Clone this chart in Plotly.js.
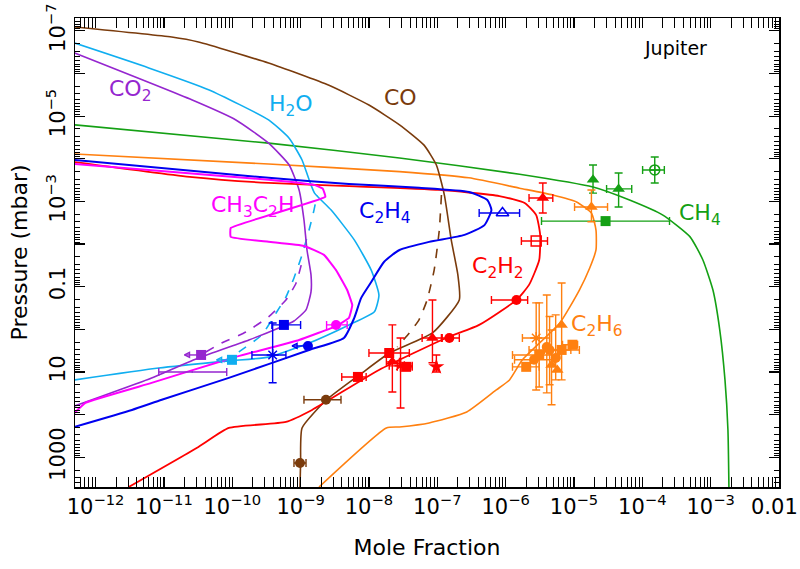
<!DOCTYPE html>
<html><head><meta charset="utf-8">
<script src="https://cdn.plot.ly/plotly-3.0.1.min.js"></script>
<style>html,body{margin:0;padding:0;background:#fff}#chart{width:800px;height:569px}</style>
</head><body><div id="chart"></div>
<script>
// ---------- axis ticks ----------
const xTickVals = [1e-12,1e-11,1e-10,1e-9,1e-8,1e-7,1e-6,1e-5,1e-4,1e-3];
const xTickText = ['10<sup>\u221212</sup>','10<sup>\u221211</sup>','10<sup>\u221210</sup>','10<sup>\u22129</sup>','10<sup>\u22128</sup>','10<sup>\u22127</sup>','10<sup>\u22126</sup>','10<sup>\u22125</sup>','10<sup>\u22124</sup>','10<sup>\u22123</sup>'];
const xEdgeLabel = '0.01';   // label of the right-hand end of the axis (1e-2)
const yTickVals = [1e-7,1e-5,1e-3,1e-1,10,1000];
const yTickText = ['10<sup>\u22127</sup>','10<sup>\u22125</sup>','10<sup>\u22123</sup>','0.1','10','1000'];
const yOddDecades = [1e-6,1e-4,1e-2,1,100];

// ---------- model profiles (mole fraction, pressure in mbar) ----------
const coX  = [4.9e-13,1.3e-11,3.2e-11,3.4e-10,2.6e-9,1.0e-8,2.8e-8,6.4e-8,9.7e-8,1.27e-7,1.6e-7,2.0e-7,2.1e-7,8.5e-8,2.0e-8,7.9e-9,2.4e-9,1.05e-9,1.0e-9,9.8e-10];
const coP  = [8.1e-8,1.4e-7,1.83e-7,5.7e-7,1.9e-6,5.5e-6,1.6e-5,4.8e-5,1.4e-4,7.1e-4,8.0e-3,0.053,0.205,1.22,3.6,10.6,45,206,1360,5000];
const coDashX = [1.15e-7,1.07e-7,9.0e-8,7.1e-8,5.4e-8,3.9e-8,2.6e-8];
const coDashP = [7.1e-4,4.7e-3,0.041,0.205,0.60,1.22,2.6];

const h2oX = [4.9e-13,6.0e-12,4.5e-11,3.4e-10,6.8e-10,1.05e-9,1.33e-9,1.6e-9,2.8e-9,6.1e-9,1.08e-8,1.4e-8,1.2e-8,5.1e-9,1.33e-9,3.4e-10,8.9e-11,8.4e-12,4.9e-13];
const h2oP = [1.93e-7,7.4e-7,2.4e-6,1.23e-5,3.3e-5,1.07e-4,3.1e-4,6.4e-4,1.6e-3,8.0e-3,0.041,0.157,0.39,0.79,2.1,4.5,5.5,8.1,15.4];
const h2oDashX = [7.5e-11,1.25e-10,2.7e-10,4.4e-10,6.1e-10,8.0e-10,1.05e-9,1.33e-9,1.57e-9,1.74e-9];
const h2oDashP = [5.8,3.4,1.36,0.41,0.175,0.0625,0.018,4.7e-3,1.6e-3,7.1e-4];

const co2X = [4.9e-13,2.6e-11,1.13e-10,3.4e-10,6.8e-10,9.5e-10,1.12e-9,1.24e-9,1.42e-9,1.42e-9,1.2e-9,8.0e-10,4.8e-10,1.75e-10,3.2e-11,6.6e-12,4.9e-13];
const co2P = [3.3e-7,4.2e-6,1.23e-5,4.3e-5,1.4e-4,5.4e-4,2.7e-3,0.0138,0.053,0.133,0.35,0.64,0.93,1.78,4.7,13.8,63];
const co2DashX = [4.1e-11,7.0e-11,1.58e-10,3.4e-10,6.1e-10,8.6e-10,1.05e-9];
const co2DashP = [3.4,2.1,1.16,0.51,0.205,0.082,0.026];

const ch4X = [4.9e-13,3.4e-10,2.8e-8,1.6e-6,1.9e-5,6.5e-5,2.0e-4,5.0e-4,7.7e-4,1.08e-3,1.36e-3,1.62e-3,1.79e-3,1.85e-3];
const ch4P = [1.6e-5,4.3e-5,9.6e-5,2.3e-4,4.6e-4,9.3e-4,2.1e-3,6.8e-3,0.0237,0.12,1.04,15.4,230,5000];

const c2h6X = [4.9e-13,3.4e-10,2.8e-8,2.9e-7,1.6e-6,4.9e-6,1.09e-5,1.8e-5,2.1e-5,2.1e-5,1.7e-5,1.2e-5,6.2e-6,1.76e-6,1.14e-6,7.3e-7,2.7e-7,7.6e-8,2.8e-8,1.8e-8,1.86e-9];
const c2h6P = [7.7e-5,1.33e-4,2.0e-4,2.8e-4,4.9e-4,7.1e-4,1.03e-3,1.87e-3,4.7e-3,0.0138,0.0365,0.12,0.71,5.2,15.4,26.5,87,157,195,206,5000];

const c2h2X = [4.9e-13,2.6e-11,3.4e-10,5.1e-9,1.07e-7,8.1e-7,1.9e-6,2.8e-6,3.2e-6,3.1e-6,2.2e-6,1.44e-6,4.1e-7,1.35e-7,1.4e-8,1.47e-9,6.1e-10,8.9e-11,3.2e-11,3.05e-12];
const c2h2P = [1.19e-4,2.7e-4,3.7e-4,4.4e-4,5.4e-4,7.5e-4,1.09e-3,2.1e-3,6.1e-3,0.0237,0.091,0.205,0.79,1.6,9.0,78,149,206,575,5000];

const c2h4X = [4.9e-13,3.4e-10,5.1e-9,5.4e-8,2.9e-7,5.4e-7,6.2e-7,4.9e-7,2.5e-7,7.6e-8,2.8e-8,1.67e-8,1.08e-8,7.7e-9,6.1e-9,4.3e-9,1.33e-9,8.9e-11,9.3e-12,3.4e-12,4.9e-13];
const c2h4P = [1.07e-4,2.8e-4,3.9e-4,4.8e-4,6.0e-4,9.3e-4,1.6e-3,3.6e-3,6.1e-3,8.9e-3,0.0138,0.026,0.078,0.184,0.54,1.6,3.05,13.8,45,78,195];

const ch3c2hX = [4.9e-13,3.4e-10,1.57e-9,2.1e-9,2.3e-9,9.5e-11,9.5e-11,3.4e-10,1.12e-9,2.2e-9,3.3e-9,4.8e-9,5.7e-9,5.1e-9,3.3e-9,9.5e-10,9.9e-11,6.6e-12,7.1e-13,4.9e-13];
const ch3c2hP = [1.33e-4,3.1e-4,4.1e-4,5.0e-4,7.8e-4,4.2e-3,6.8e-3,8.9e-3,0.0111,0.018,0.041,0.12,0.27,0.54,0.84,1.78,4.7,18.1,53,92];

// ---------- observations ----------
const obsGas = ['co2','co2','h2o','c2h4','c2h4','c2h4','c2h4','ch3c2h','co','co',
  'c2h2','c2h2','c2h2','c2h2','c2h2','c2h2','c2h2','c2h2','c2h2','c2h2','c2h2',
  'ch4','ch4','ch4','ch4',
  'c2h6','c2h6','c2h6','c2h6','c2h6','c2h6','c2h6','c2h6','c2h6','c2h6','c2h6','c2h6','c2h6'];
const obsX = [3.5e-11,2.6e-11,9.9e-11,5.7e-10,3.9e-10,1.28e-9,9.0e-7,3.3e-9,2.35e-9,9.8e-10,
  6.9e-9,1.98e-8,2.2e-8,2.9e-8,3.5e-8,8.5e-8,1.5e-7,9.7e-8,1.44e-6,3.5e-6,2.8e-6,
  1.9e-5,4.5e-5,1.52e-4,2.9e-5,
  1.8e-5,2.8e-6,6.6e-6,4.0e-6,2.6e-6,2.0e-6,4.7e-6,9.5e-6,4.4e-6,6.6e-6,3.1e-6,5.4e-6,5.7e-6];
const obsP = [4.0,10,5.2,0.79,4.0,2.46,1.87e-3,0.79,45,1365,
  13.1,3.6,5.8,7.2,7.6,1.6,1.6,7.6,0.205,8.3e-4,8.5e-3,
  3.1e-4,5.1e-4,1.83e-4,2.9e-3,
  1.35e-3,1.6,0.79,2.6,5.2,7.6,6.9,2.3,3.05,3.05,4.0,4.7,9.0];
const obsXlo = [null,8.4e-12,null,3.8e-10,1.94e-10,null,4.1e-7,2.4e-9,1.12e-9,8.0e-10,
  4.0e-9,1.0e-8,1.8e-8,1.98e-8,2.6e-8,6.0e-8,1.15e-7,null,6.2e-7,2.2e-6,1.7e-6,
  null,3.0e-5,1.01e-4,3.35e-6,
  1.02e-5,1.76e-6,null,null,1.35e-6,1.26e-6,null,6.8e-6,2.2e-6,3.7e-6,1.26e-6,null,null];
const obsXhi = [null,8.3e-11,null,1.0e-9,6.1e-10,null,1.6e-6,4.8e-9,3.9e-9,1.2e-9,
  9.1e-9,3.9e-8,2.8e-8,4.3e-8,4.3e-8,1.18e-7,2.1e-7,null,2.1e-6,4.9e-6,4.1e-6,
  null,7.0e-5,2.1e-4,2.5e-4,
  3.1e-5,4.4e-6,null,null,5.2e-6,3.1e-6,null,1.13e-5,9.0e-6,1.2e-5,6.2e-6,null,null];
const obsPlo = [null,null,null,null,0.71,null,null,null,null,null,
  null,null,0.79,1.6,null,0.205,null,4.0,null,3.7e-4,null,
  1.4e-4,2.16e-4,9.1e-5,null,
  5.4e-4,0.24,0.082,0.157,null,null,1.04,null,0.5,null,0.24,0.46,null];
const obsPhi = [null,null,null,null,18,null,null,null,null,null,
  null,null,29.5,70,null,6.1,null,10,null,1.87e-3,null,
  6.4e-4,1.35e-3,3.7e-4,null,
  3.0e-3,26.5,15.4,31,null,null,59,null,20,null,22.5,15.4,null];
const obsSymbol = ['square','line-ns','square','square','asterisk-open','circle','triangle-up-open','circle','circle','circle',
  'square','square','triangle-up','asterisk-open','square','triangle-up','circle','star','circle','triangle-up','square-open',
  'triangle-up','triangle-up','circle-cross-open','square',
  'triangle-up','asterisk-open','triangle-up','circle','circle','square','triangle-up','square','circle','square','square','circle','triangle-up'];
// upper limits (arrow pointing to lower mole fraction)
const limGas = ['co2','h2o','c2h4'];
const limX = [3.5e-11,9.9e-11,1.28e-9];
const limP = [4.0,5.2,2.46];
const limXend = [2.0e-11,5.9e-11,7.5e-10];

// ---------- styling ----------
const gasColor = {co:'#7a3b0c', h2o:'#10aef0', co2:'#9526cf', ch4:'#14a014', c2h6:'#ff8010', c2h2:'#ff0000', c2h4:'#0000f0', ch3c2h:'#ff00ff'};
const FONT = 'DejaVu Sans, sans-serif';

function model(x, p, gas, dash, w, sm) {
  return {type:'scatter', mode:'lines', x:x, y:p, showlegend:false, hoverinfo:'skip',
    line:{color:gasColor[gas], width:w||1.6, dash:dash||'solid', shape:'spline', smoothing:(sm===undefined?0.5:sm)}};
}
const traces = [
  model(ch4X, ch4P, 'ch4'),
  model(c2h6X, c2h6P, 'c2h6'),
  model(coX, coP, 'co'),
  model(coDashX, coDashP, 'co', 'dash'),
  model(h2oX, h2oP, 'h2o'),
  model(h2oDashX, h2oDashP, 'h2o', 'dash'),
  model(co2X, co2P, 'co2'),
  model(co2DashX, co2DashP, 'co2', 'dash'),
  model(c2h2X, c2h2P, 'c2h2', 'solid', 1.8),
  model(c2h4X, c2h4P, 'c2h4', 'solid', 2.0),
  model(ch3c2hX, ch3c2hP, 'ch3c2h', 'solid', 2.0, 0.3)
];
for (let i = 0; i < obsX.length; i++) {
  const c = gasColor[obsGas[i]];
  const sym = obsSymbol[i];
  const lineSym = sym.indexOf('open') >= 0 || sym === 'line-ns';
  const t = {type:'scatter', mode:'markers', x:[obsX[i]], y:[obsP[i]], showlegend:false, hoverinfo:'skip',
    marker:{symbol:sym, size: sym === 'line-ns' ? 1 : (sym==='star'?12:(sym.indexOf('triangle')===0?11:10)), color:c, line:{color:c, width: lineSym ? 1.5 : 0}}};
  if (obsXlo[i] !== null) t.error_x = {type:'data', symmetric:false, array:[obsXhi[i]-obsX[i]], arrayminus:[obsX[i]-obsXlo[i]], color:c, thickness:1.4, width:4};
  if (obsPlo[i] !== null) t.error_y = {type:'data', symmetric:false, array:[obsPhi[i]-obsP[i]], arrayminus:[obsP[i]-obsPlo[i]], color:c, thickness:1.4, width:4};
  traces.push(t);
}
// upper-limit arrows: shaft + head
for (let i = 0; i < limX.length; i++) {
  const c = gasColor[limGas[i]];
  traces.push({type:'scatter', mode:'lines', x:[limX[i], limXend[i]], y:[limP[i], limP[i]], showlegend:false, hoverinfo:'skip', line:{color:c, width:1.4}});
  traces.push({type:'scatter', mode:'markers', x:[limXend[i]], y:[limP[i]], showlegend:false, hoverinfo:'skip',
    marker:{symbol:'arrow-left-open', size:5, color:c, line:{color:c, width:1.4}}});
}
// helper axis for unlabeled decade ticks on the pressure axis
traces.push({type:'scatter', mode:'markers', x:[1e-10], y:[1], yaxis:'y2', showlegend:false, hoverinfo:'skip', marker:{opacity:0}});

const annotations = [];
function label(text, lx, ly, gas) {
  annotations.push({x:lx, y:ly, xref:'x', yref:'y', text:text, showarrow:false, font:{family:FONT, size:22, color:gas ? gasColor[gas] : '#000'}});
}
label('CO<sub>2</sub>', -11.49, -5.61, 'co2');
label('H<sub>2</sub>O', -9.14, -5.24, 'h2o');
label('CO', -7.54, -5.43, 'co');
label('CH<sub>3</sub>C<sub>2</sub>H', -9.71, -2.87, 'ch3c2h');
label('C<sub>2</sub>H<sub>4</sub>', -7.76, -2.73, 'c2h4');
label('C<sub>2</sub>H<sub>2</sub>', -6.11, -1.46, 'c2h2');
label('C<sub>2</sub>H<sub>6</sub>', -4.67, -0.08, 'c2h6');
label('CH<sub>4</sub>', -3.16, -2.70, 'ch4');
annotations.push({x:-3.52, y:-6.60, xref:'x', yref:'y', text:'Jupiter', showarrow:false, font:{family:FONT, size:19, color:'#000'}});
// axis-end label "0.01", kept inside the page
annotations.push({x:1.0298, y:-0.0435, xref:'paper', yref:'paper', xanchor:'right', yanchor:'middle', text:xEdgeLabel, showarrow:false, font:{family:FONT, size:21, color:'#000'}});

function minorVals(lo, hi) {
  const v = [];
  for (let e = lo; e <= hi; e++) for (let d = 2; d <= 9; d++) v.push(d * Math.pow(10, e));
  return v;
}
const yRange = [Math.log10(5000), Math.log10(5e-8)];

const layout = {
  width:800, height:569,
  margin:{l:75, r:21, t:18, b:82},
  paper_bgcolor:'#fff', plot_bgcolor:'#fff',
  font:{family:FONT, size:21, color:'#000'},
  xaxis:{type:'log', range:[Math.log10(5e-13), -2], tickmode:'array', tickvals:xTickVals, ticktext:xTickText,
    ticks:'inside', ticklen:10, tickwidth:1.2, tickcolor:'#000', showline:true, linecolor:'#000', linewidth:1.5, mirror:'allticks',
    showgrid:false, zeroline:false, tickfont:{family:FONT, size:21},
    minor:{tickmode:'array', tickvals:minorVals(-13,-3), ticks:'inside', ticklen:5, tickwidth:1, tickcolor:'#000', showgrid:false},
    title:{text:'Mole Fraction', font:{family:FONT, size:22}, standoff:22}},
  yaxis:{type:'log', range:yRange, tickmode:'array', tickvals:yTickVals, ticktext:yTickText,
    ticks:'inside', ticklen:10, tickwidth:1.2, tickcolor:'#000', showline:true, linecolor:'#000', linewidth:1.5, mirror:'allticks',
    showgrid:false, zeroline:false, tickangle:-90, tickfont:{family:FONT, size:21},
    minor:{tickmode:'array', tickvals:minorVals(-8,3), ticks:'inside', ticklen:5, tickwidth:1, tickcolor:'#000', showgrid:false},
    title:{text:'Pressure (mbar)', font:{family:FONT, size:22}, standoff:8}},
  yaxis2:{type:'log', range:yRange, overlaying:'y', side:'left', tickmode:'array', tickvals:yOddDecades,
    ticks:'inside', ticklen:10, tickwidth:1.2, tickcolor:'#000', showline:false, mirror:'allticks', showticklabels:false,
    showgrid:false, zeroline:false},
  annotations:annotations,
  showlegend:false
};
Plotly.newPlot('chart', traces, layout, {displayModeBar:false, staticPlot:true});
</script></body></html>
